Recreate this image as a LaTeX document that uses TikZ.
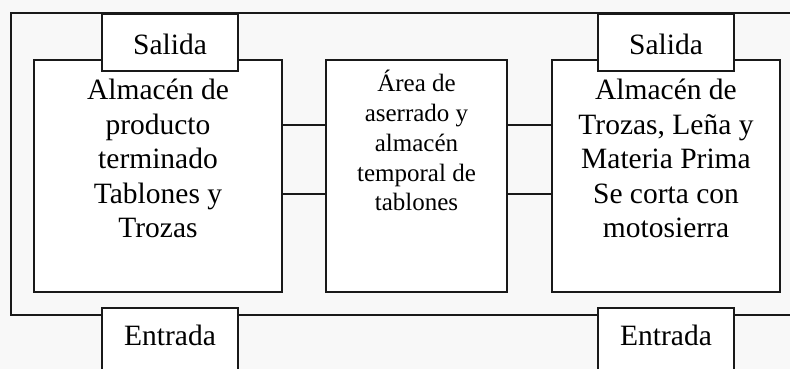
\documentclass[tikz,border=0pt]{standalone}
\usepackage{fontspec}
\setmainfont{Liberation Serif}
\usepackage{tikz}
\definecolor{inkblack}{RGB}{25, 25, 25}
\definecolor{paperwhite}{RGB}{248, 248, 248}

\begin{document}
\begin{tikzpicture}[x=1pt,y=1pt,
    area/.style={draw=inkblack,line width=1.6pt,fill=white,inner sep=0pt,minimum height=232pt},
    tab/.style={draw=inkblack,line width=1.6pt,fill=white,inner sep=0pt,minimum width=136pt},
    link/.style={draw=inkblack,line width=1.6pt},
    bigtext/.style={font=\fontsize{29.5}{34.5}\selectfont,align=center,anchor=north,inner sep=0pt},
    smalltext/.style={font=\fontsize{25}{29.75}\selectfont,align=center,anchor=north,inner sep=0pt},
    tabtext/.style={font=\fontsize{29.5}{34.5}\selectfont,anchor=base,inner sep=0pt}]
    \useasboundingbox[fill=paperwhite] (0,0) rectangle (790,369);

    % Outer frame
    \draw[link] (790,356) -- (11,356) -- (11,54) -- (790,54);

    % Storage areas
    \node[area,minimum width=248pt] (almacenA) at (158,193) {};
    \node[bigtext] (almacenA-txt) at ([yshift=-20pt]almacenA.north) {Almacén de\\producto\\terminado\\Tablones y\\Trozas};

    \node[area,minimum width=181pt] (aserrado) at (416.5,193) {};
    \node[smalltext] (aserrado-txt) at ([yshift=-11pt]aserrado.north) {Área de\\aserrado y\\almacén\\temporal de\\tablones};

    \node[area,minimum width=228pt] (almacenB) at (666,193) {};
    \node[bigtext] (almacenB-txt) at ([yshift=-20pt]almacenB.north) {Almacén de\\Trozas, Leña y\\Materia Prima\\Se corta con\\motosierra};

    % Links
    \draw[link] ([yshift=51pt]almacenA.east) -- ([yshift=51pt]aserrado.west);
    \draw[link] ([yshift=-18pt]almacenA.east) -- ([yshift=-18pt]aserrado.west);
    \draw[link] ([yshift=51pt]aserrado.east) -- ([yshift=51pt]almacenB.west);
    \draw[link] ([yshift=-18pt]aserrado.east) -- ([yshift=-18pt]almacenB.west);

    % Exits
    \node[tab,minimum height=57pt] (salidaA) at (170,326.5) {};
    \node[tabtext] (salidaA-txt) at ([yshift=-41pt]salidaA.north) {Salida};
    \node[tab,minimum height=57pt] (salidaB) at (666,326.5) {};
    \node[tabtext] (salidaB-txt) at ([yshift=-41pt]salidaB.north) {Salida};

    % Entries
    \node[tab,minimum height=66pt,anchor=north] (entradaA) at (170,62) {};
    \node[tabtext] (entradaA-txt) at ([yshift=-39pt]entradaA.north) {Entrada};
    \node[tab,minimum height=66pt,anchor=north] (entradaB) at (666,62) {};
    \node[tabtext] (entradaB-txt) at ([yshift=-39pt]entradaB.north) {Entrada};
\end{tikzpicture}
\end{document}
